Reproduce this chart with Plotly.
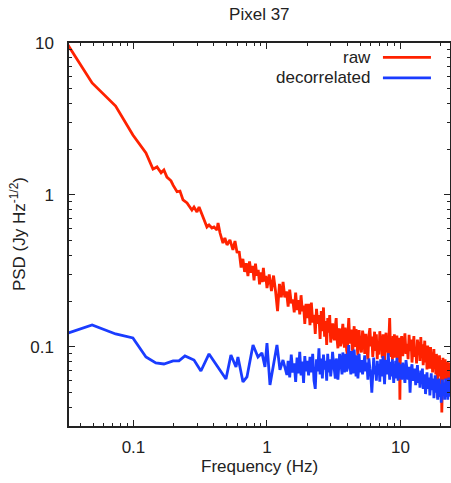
import plotly.graph_objects as go

# ---------------- data ----------------
# raw PSD, low-frequency part
freq_raw_low = [0.0245, 0.049, 0.0735, 0.099, 0.124, 0.133, 0.140, 0.150, 0.161, 0.169,
                0.178, 0.191, 0.198, 0.212, 0.223, 0.235, 0.252, 0.261, 0.274, 0.284,
                0.299, 0.310, 0.326, 0.343, 0.355, 0.368, 0.387, 0.401, 0.422, 0.430,
                0.445, 0.468, 0.484, 0.502, 0.528, 0.556, 0.576, 0.596]
psd_raw_low = [14.2, 5.46, 3.85, 2.48, 1.89, 1.62, 1.48, 1.53, 1.40, 1.46,
               1.31, 1.24, 1.16, 1.05, 1.06, 0.927, 0.886, 0.847, 0.797, 0.834,
               0.773, 0.834, 0.739, 0.654, 0.616, 0.635, 0.607, 0.616, 0.588, 0.654,
               0.562, 0.483, 0.521, 0.469, 0.506, 0.435, 0.498, 0.422]

# decorrelated PSD, low-frequency part
freq_dec_low = [0.0245, 0.049, 0.0735, 0.099, 0.124, 0.147, 0.169, 0.198, 0.219, 0.243,
                0.284, 0.32, 0.368, 0.445, 0.493, 0.537, 0.586, 0.606, 0.661, 0.708,
                0.786, 0.856, 0.917, 0.966, 1.0, 1.053, 1.109, 1.188, 1.251, 1.318, 1.41]
psd_dec_low = [0.1135, 0.1396, 0.1218, 0.1146, 0.0859, 0.0785, 0.0773, 0.081, 0.081, 0.0873,
               0.0821, 0.0695, 0.090, 0.0695, 0.0616, 0.0886, 0.0739, 0.0859, 0.0589, 0.0635,
               0.103, 0.0859, 0.0914, 0.0739, 0.106, 0.0562, 0.0739, 0.103, 0.0706, 0.0821, 0.0655]

# shared high-frequency grid (Hz)
freq_high = [0.62, 0.64, 0.66, 0.68, 0.70, 0.72, 0.74, 0.76, 0.78, 0.80,
             0.82, 0.84, 0.86, 0.88, 0.90, 0.92, 0.94, 0.96, 0.98, 1.00,
             1.04, 1.08, 1.12, 1.16, 1.20, 1.24, 1.28, 1.32, 1.36, 1.40,
             1.44, 1.48, 1.52, 1.56, 1.60, 1.64, 1.68, 1.72, 1.76, 1.80,
             1.84, 1.88, 1.92, 1.96, 2.00,
             2.05, 2.10, 2.15, 2.20, 2.25, 2.30, 2.35, 2.40, 2.45, 2.50,
             2.55, 2.60, 2.65, 2.70, 2.75, 2.80, 2.85, 2.90, 2.95, 3.00,
             3.05, 3.10, 3.15, 3.20, 3.25, 3.30, 3.35, 3.40, 3.45, 3.50,
             3.55, 3.60, 3.65, 3.70, 3.75, 3.80, 3.85, 3.90, 3.95, 4.00,
             4.05, 4.10, 4.15, 4.20, 4.25, 4.30, 4.35, 4.40, 4.45, 4.50,
             4.55, 4.60, 4.65, 4.70, 4.75, 4.80, 4.85, 4.90, 4.95, 5.00,
             5.1, 5.2, 5.3, 5.4, 5.5, 5.6, 5.7, 5.8, 5.9, 6.0,
             6.1, 6.2, 6.3, 6.4, 6.5, 6.6, 6.7, 6.8, 6.9, 7.0,
             7.1, 7.2, 7.3, 7.4, 7.5, 7.6, 7.7, 7.8, 7.9, 8.0,
             8.1, 8.2, 8.3, 8.4, 8.5, 8.6, 8.7, 8.8, 8.9, 9.0,
             9.1, 9.2, 9.3, 9.4, 9.5, 9.6, 9.7, 9.8, 9.9, 10.0,
             10.2, 10.4, 10.6, 10.8, 11.0, 11.2, 11.4, 11.6, 11.8, 12.0,
             12.2, 12.4, 12.6, 12.8, 13.0, 13.2, 13.4, 13.6, 13.8, 14.0,
             14.2, 14.4, 14.6, 14.8, 15.0, 15.2, 15.4, 15.6, 15.8, 16.0,
             16.2, 16.4, 16.6, 16.8, 17.0, 17.2, 17.4, 17.6, 17.8, 18.0,
             18.2, 18.4, 18.6, 18.8, 19.0, 19.2, 19.4, 19.6, 19.8, 20.0,
             20.2, 20.4, 20.6, 20.8, 21.0, 21.2, 21.4, 21.6, 21.8, 22.0,
             22.2, 22.4, 22.6, 22.8, 23.0, 23.2, 23.4, 23.6, 23.8, 24.0,
             24.2, 24.4, 24.6, 24.8, 25.0]

psd_raw_high = [0.42, 0.333, 0.38, 0.312, 0.356, 0.293, 0.365, 0.308, 0.342, 0.274,
                0.353, 0.295, 0.322, 0.258, 0.309, 0.267, 0.331, 0.27, 0.293, 0.244,
                0.30, 0.233, 0.295, 0.232, 0.172, 0.26, 0.212, 0.2675, 0.212, 0.232,
                0.184, 0.238, 0.194, 0.205, 0.169, 0.228, 0.175, 0.203, 0.164, 0.219,
                0.172, 0.187, 0.142, 0.192, 0.155,
                0.192, 0.139, 0.196, 0.145, 0.163, 0.122, 0.178, 0.142, 0.162, 0.113,
                0.172, 0.127, 0.182, 0.117, 0.148, 0.103, 0.155, 0.124, 0.162, 0.107,
                0.121, 0.143, 0.118, 0.111, 0.137, 0.155, 0.112, 0.098, 0.128, 0.132,
                0.101, 0.107, 0.125, 0.142, 0.113, 0.099, 0.134, 0.123, 0.095, 0.090,
                0.128, 0.155, 0.121, 0.105, 0.126, 0.130, 0.098, 0.093, 0.119, 0.137,
                0.110, 0.100, 0.131, 0.121, 0.097, 0.088, 0.117, 0.129, 0.109, 0.103,
                0.092, 0.128, 0.115, 0.090, 0.122, 0.098, 0.083, 0.119, 0.133, 0.101,
                0.117, 0.086, 0.104, 0.126, 0.094, 0.121, 0.083, 0.108, 0.089, 0.127,
                0.104, 0.115, 0.085, 0.121, 0.097, 0.080, 0.113, 0.124, 0.092, 0.108,
                0.088, 0.132, 0.155, 0.104, 0.086, 0.112, 0.082, 0.118, 0.096, 0.121,
                0.085, 0.109, 0.093, 0.119, 0.082, 0.110, 0.090, 0.115, 0.045, 0.098,
                0.118, 0.087, 0.109, 0.123, 0.090, 0.105, 0.083, 0.120, 0.094, 0.112,
                0.079, 0.106, 0.118, 0.086, 0.100, 0.078, 0.112, 0.093, 0.108, 0.081,
                0.116, 0.090, 0.104, 0.076, 0.098, 0.110, 0.079, 0.097, 0.071, 0.102,
                0.087, 0.095, 0.072, 0.100, 0.083, 0.092, 0.068, 0.089, 0.097, 0.074,
                0.087, 0.066, 0.090, 0.075, 0.046, 0.085, 0.070, 0.088, 0.064, 0.082,
                0.070, 0.037, 0.078, 0.085, 0.066, 0.079, 0.061, 0.083, 0.069, 0.077,
                0.059, 0.080, 0.067, 0.075, 0.058, 0.079, 0.064, 0.073, 0.057, 0.076,
                0.063, 0.072, 0.056, 0.074, 0.065]

# decorrelated values on the high grid, from 1.44 Hz onwards
psd_dec_high = [0.081, 0.063, 0.089, 0.068, 0.078, 0.059, 0.085, 0.067, 0.093, 0.065,
                0.080, 0.058, 0.087, 0.069, 0.081,
                0.065, 0.086, 0.068, 0.090, 0.060, 0.053, 0.083, 0.069, 0.098, 0.066,
                0.084, 0.062, 0.089, 0.071, 0.081, 0.060, 0.090, 0.068, 0.083, 0.064,
                0.074, 0.093, 0.079, 0.068, 0.062, 0.084, 0.077, 0.061, 0.071, 0.090,
                0.083, 0.072, 0.066, 0.092, 0.080, 0.068, 0.077, 0.090, 0.069, 0.072,
                0.085, 0.103, 0.081, 0.072, 0.066, 0.094, 0.079, 0.067, 0.074, 0.096,
                0.080, 0.072, 0.064, 0.088, 0.075, 0.062, 0.071, 0.090, 0.076, 0.068,
                0.082, 0.066, 0.076, 0.088, 0.069, 0.079, 0.061, 0.084, 0.072, 0.065,
                0.050, 0.078, 0.085, 0.066, 0.074, 0.060, 0.081, 0.069, 0.077, 0.059,
                0.083, 0.071, 0.064, 0.087, 0.073, 0.057, 0.076, 0.082, 0.066, 0.071,
                0.091, 0.068, 0.061, 0.080, 0.070, 0.064, 0.083, 0.072, 0.058, 0.075,
                0.066, 0.081, 0.062, 0.085, 0.067, 0.060, 0.079, 0.070, 0.062, 0.077,
                0.061, 0.079, 0.066, 0.058, 0.082, 0.069, 0.061, 0.074, 0.050, 0.071,
                0.077, 0.060, 0.068, 0.072, 0.056, 0.065, 0.076, 0.058, 0.066, 0.054,
                0.070, 0.060, 0.072, 0.053, 0.064, 0.066, 0.049, 0.061, 0.068, 0.053,
                0.060, 0.063, 0.048, 0.058, 0.067, 0.052, 0.057, 0.062, 0.046, 0.056,
                0.065, 0.050, 0.055, 0.061, 0.045, 0.054, 0.062, 0.047, 0.053, 0.057,
                0.043, 0.052, 0.061, 0.048, 0.055, 0.058, 0.045, 0.053, 0.062, 0.047,
                0.056, 0.058, 0.045, 0.054, 0.063, 0.048, 0.057, 0.059, 0.047, 0.055,
                0.061, 0.048, 0.054, 0.058, 0.049]

x_tick_vals = [0.1, 1, 10]
x_tick_text = ["0.1", "1", "10"]
y_tick_vals = [0.1, 1, 10]
y_tick_text = ["0.1", "1", "10"]

RED = "#ff2200"
BLUE = "#1a3cff"
FONT = "Liberation Sans, Arial, Helvetica, sans-serif"
TXT = "#222222"
FS = 17

freq_raw = freq_raw_low + freq_high
psd_raw = psd_raw_low + psd_raw_high
n_dec = len(psd_dec_high)
freq_dec = freq_dec_low + freq_high[-n_dec:]
psd_dec = psd_dec_low + psd_dec_high

fig = go.Figure()
fig.add_trace(go.Scatter(x=freq_raw, y=psd_raw, mode="lines", name="raw",
                         line=dict(color=RED, width=2.8), showlegend=False))
fig.add_trace(go.Scatter(x=freq_dec, y=psd_dec, mode="lines", name="decorrelated",
                         line=dict(color=BLUE, width=2.8), showlegend=False))

axis_common = dict(
    type="log", showgrid=False, zeroline=False, automargin=False,
    showline=True, linecolor="#222222", linewidth=1.5, mirror="allticks",
    ticks="inside", ticklen=6, tickwidth=1, tickcolor="#222222",
    tickfont=dict(family=FONT, size=FS, color=TXT),
    minor=dict(ticks="inside", ticklen=3, tickwidth=1, tickcolor="#222222",
               dtick="D1", showgrid=False),
)

fig.update_xaxes(**axis_common, range=[-1.483, 1.371],
                 tickvals=x_tick_vals, ticktext=x_tick_text, ticklabelstandoff=5)
fig.update_yaxes(**axis_common, range=[-1.52, 1.0],
                 tickvals=y_tick_vals, ticktext=y_tick_text, ticklabelstandoff=10)

# axis titles
fig.add_annotation(x=0.5, y=-0.107, xref="paper", yref="paper", text="Frequency (Hz)",
                   showarrow=False, xanchor="center", yanchor="middle",
                   font=dict(family=FONT, size=FS, color=TXT))
fig.add_annotation(x=-0.135, y=0.5, xref="paper", yref="paper",
                   text="PSD (Jy Hz<sup>-1/2</sup>)", textangle=-90,
                   showarrow=False, xanchor="center", yanchor="middle",
                   font=dict(family=FONT, size=FS, color=TXT))

# legend drawn as text + line samples (text left of the sample, as in the original)
legend_items = [("raw", RED, 0.9625), ("decorrelated", BLUE, 0.909)]
for label, col, yy in legend_items:
    fig.add_annotation(x=0.795, y=yy, xref="paper", yref="paper", text=label,
                       showarrow=False, xanchor="right", yanchor="middle",
                       height=15, valign="middle", borderpad=0,
                       font=dict(family=FONT, size=FS, color=TXT))
    fig.add_shape(type="line", xref="paper", yref="paper", x0=0.824, x1=0.950,
                  y0=yy, y1=yy, line=dict(color=col, width=2.8))

fig.update_layout(
    width=451, height=483,
    margin=dict(l=69, r=1, t=43, b=57),
    paper_bgcolor="white", plot_bgcolor="white",
    title=dict(text="Pixel 37", x=0.575, xanchor="center", y=0.971, yanchor="middle",
               font=dict(family=FONT, size=FS, color=TXT)),
    font=dict(family=FONT, size=FS, color=TXT),
)

fig.write_html("out.html",
               config={"displayModeBar": False},
               post_script="document.body.style.margin='0';document.body.style.overflow='hidden';")
